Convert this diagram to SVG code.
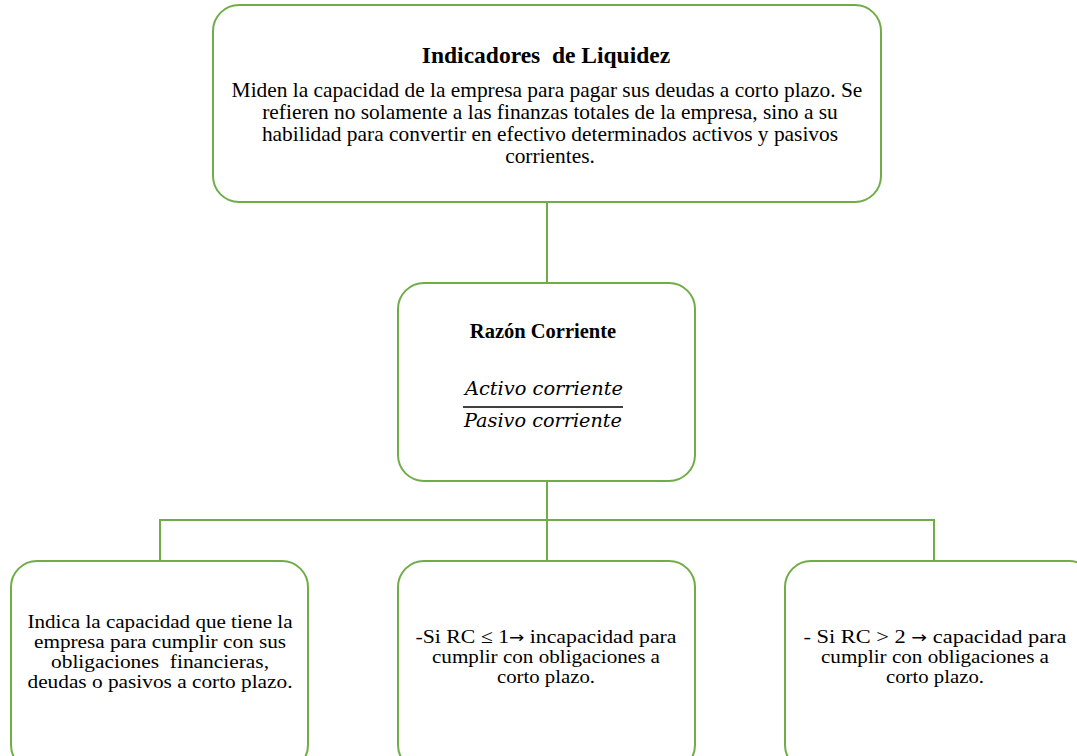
<svg xmlns="http://www.w3.org/2000/svg" width="1077" height="756" viewBox="0 0 1077 756">
<style>
.box{fill:#fff;stroke:#70AD47;stroke-width:2}
.con{fill:none;stroke:#70AD47;stroke-width:2}
text{font-family:"Liberation Serif","Times New Roman",serif;fill:#000;text-anchor:middle}
.t{font-size:21.4px}
.b{font-size:19px}
.h{font-weight:bold}
.m{font-family:"DejaVu Serif","Liberation Serif",serif;font-style:italic;font-size:18.5px}
.ar{font-family:"DejaVu Sans",sans-serif;font-size:16px}
</style>
<rect width="1077" height="756" fill="#fff"/>
<g id="connectors">
<line class="con" x1="547" y1="202" x2="547" y2="283"/>
<line class="con" x1="547" y1="481" x2="547" y2="561"/>
<polyline class="con" points="160,561 160,520 934,520 934,561"/>
</g>
<g id="n1">
<rect class="box" x="213" y="5" width="668" height="197" rx="26"/>
<text class="h" x="546" y="63" style="font-size:23.5px">Indicadores&#160; de Liquidez</text>
<text class="t" x="547" y="97">Miden la capacidad de la empresa para pagar sus deudas a corto plazo. Se</text>
<text class="t" x="550" y="119">refieren no solamente a las finanzas totales de la empresa, sino a su</text>
<text class="t" x="550" y="141">habilidad para convertir en efectivo determinados activos y pasivos</text>
<text class="t" x="550" y="163">corrientes.</text>
</g>
<g id="n2">
<rect class="box" x="398" y="283" width="297" height="198" rx="26"/>
<text class="h" x="543" y="338" style="font-size:20.5px">Razón Corriente</text>
<text class="m" x="544" y="395" textLength="158" lengthAdjust="spacingAndGlyphs">Activo corriente</text>
<line x1="463" y1="407" x2="623" y2="407" stroke="#000" stroke-width="1.5"/>
<text class="m" x="543" y="427" textLength="158" lengthAdjust="spacingAndGlyphs">Pasivo corriente</text>
</g>
<g id="n3">
<rect class="box" x="11" y="561" width="297" height="210" rx="26"/>
<text class="b" x="160" y="628" textLength="265" lengthAdjust="spacingAndGlyphs">Indica la capacidad que tiene la</text>
<text class="b" x="160" y="648" textLength="252" lengthAdjust="spacingAndGlyphs">empresa para cumplir con sus</text>
<text class="b" x="160" y="668" textLength="218" lengthAdjust="spacingAndGlyphs">obligaciones&#160; financieras,</text>
<text class="b" x="160" y="688" textLength="265" lengthAdjust="spacingAndGlyphs">deudas o pasivos a corto plazo.</text>
</g>
<g id="n4">
<rect class="box" x="398" y="561" width="297" height="210" rx="26"/>
<text class="b" x="546" y="643" textLength="261" lengthAdjust="spacingAndGlyphs">-Si RC ≤ 1<tspan class="ar">→</tspan> incapacidad para</text>
<text class="b" x="546" y="663" textLength="228" lengthAdjust="spacingAndGlyphs">cumplir con obligaciones a</text>
<text class="b" x="546" y="683" textLength="98" lengthAdjust="spacingAndGlyphs">corto plazo.</text>
</g>
<g id="n5">
<rect class="box" x="785" y="561" width="310" height="210" rx="26"/>
<text class="b" x="935" y="643" textLength="263" lengthAdjust="spacingAndGlyphs">- Si RC &gt; 2 <tspan class="ar">→</tspan> capacidad para</text>
<text class="b" x="935" y="663" textLength="228" lengthAdjust="spacingAndGlyphs">cumplir con obligaciones a</text>
<text class="b" x="935" y="683" textLength="98" lengthAdjust="spacingAndGlyphs">corto plazo.</text>
</g>
</svg>
